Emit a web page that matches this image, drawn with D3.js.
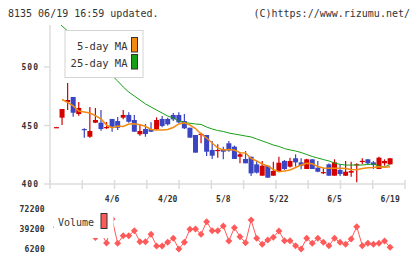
<!DOCTYPE html>
<html>
<head>
<meta charset="utf-8">
<script src="https://cdn.jsdelivr.net/npm/d3@7"></script>
<style>
  body { margin: 0; background: #fff; }
  svg { display: block; }
  text { font-family: 'DejaVu Sans Mono', monospace; fill: #333; }
</style>
</head>
<body>
<svg id="chart" width="420" height="259"></svg>
<script>
// trading days, 2020-03-23 .. 2020-06-19
const dates = ['3/23','3/24','3/25','3/26','3/27','3/30','3/31','4/1','4/2','4/3',
	'4/6','4/7','4/8','4/9','4/10','4/13','4/14','4/15','4/16','4/17',
	'4/20','4/21','4/22','4/23','4/24','4/27','4/28','4/30','5/1','5/7',
	'5/8','5/11','5/12','5/13','5/14','5/15','5/18','5/19','5/20','5/21',
	'5/22','5/25','5/26','5/27','5/28','5/29','6/1','6/2','6/3','6/4',
	'6/5','6/8','6/9','6/10','6/11','6/12','6/15','6/16','6/17','6/18','6/19'];
const dateLabels = ['4/6', '4/20', '5/8', '5/22', '6/5', '6/19'];

const opens = [448.4, 456.7, 470, 474.4, 459.8, 447, 440.4, 452.4, 452.4, 448.3,
	455.6, 453.8, 456.7, 459, 454.7, 442.5, 447, 446.8, 446.8, 455.6,
	455.6, 459, 459, 453.8, 448.1, 441.9, 442.5, 441.9, 429.1, 428.8,
	429.9, 434.8, 431.9, 423.3, 421.4, 423.3, 416.8, 407.1, 415.6, 407.1,
	411.1, 419.7, 414.8, 422, 418.5, 412.8, 421.1, 413.9, 409.8, 416.8,
	407.1, 412, 407.1, 409.7, 416.6, 419.5, 421.1, 418.5, 412.8, 417.7, 416.8];
const highs = [448.8, 464.1, 486.3, 474.4, 470.1, 447.6, 465.8, 465, 463.2, 453,
	455.6, 457.3, 463.2, 461.3, 459, 451.3, 451.3, 452.7, 457, 458.1,
	456.7, 460.7, 461.3, 459.8, 448.1, 441.9, 443.8, 441.9, 436.8, 433.9,
	431.9, 436.8, 432.8, 427.1, 428.2, 423.3, 419.7, 419.7, 415.6, 419.1,
	423.3, 420.5, 422.5, 425.4, 422, 421.5, 421.1, 419.7, 413.9, 417.5,
	421.1, 416.8, 419.7, 419.1, 417.7, 422, 421.1, 419.7, 423.3, 421.1, 422];
const lows = [448.2, 450.4, 463.2, 457.5, 458.4, 439.6, 439.6, 452.1, 445.6, 447,
	444.7, 446.2, 455.3, 452.4, 444.7, 441.3, 440.4, 444.4, 446.2, 448.5,
	450, 453.8, 451.9, 447, 439.6, 426.8, 434.8, 424, 421.4, 422.5,
	421.1, 427.6, 421.4, 417.7, 417.7, 406.8, 409, 407.1, 405.4, 407.1,
	411.1, 412, 414, 414.8, 412.6, 412.8, 412.8, 410, 408.5, 407.1,
	407.1, 406.8, 406.8, 406.2, 401.5, 416.8, 416.2, 412.8, 412.8, 415.6, 416.8];
const closes = [448.6, 464.1, 471.8, 460.9, 465, 446.5, 445.3, 454.7, 447, 448.7,
	449, 448.1, 459, 453.2, 444.7, 445.3, 442.7, 444.7, 454.7, 449.6,
	451, 455.3, 452.7, 447.6, 439.6, 426.8, 442.9, 427.6, 424.2, 429.1,
	427.6, 428.5, 421.4, 425.4, 417.7, 409.1, 409.7, 415.6, 405.4, 411.1,
	418.2, 412.8, 419.7, 418.5, 415.6, 421.1, 412.8, 410.5, 410.2, 407.1,
	418.5, 408.5, 410.5, 411.1, 416.9, 419.8, 417.7, 416.2, 422.5, 419.7, 422];

const ma5 = [null, 472.2, 469.7, 466.7, 462.4, 461.5, 460.7, 458.5, 455.6, 450.4,
	447.9, 449.6, 449.1, 451.3, 451.5, 450.6, 449.3, 446.6, 446.2, 446.2,
	446.6, 448.3, 451.3, 452.4, 450.4, 447.4, 442.7, 439.3, 435, 430.8,
	429.1, 429.5, 429.1, 426.8, 426.5, 421.8, 419.7, 417.1, 415.4, 412.4,
	410.5, 411.1, 412, 414.1, 416.2, 417.7, 417.3, 415, 413.7, 413.4,
	413.4, 413.4, 413.2, 412.4, 412.1, 413.2, 413.9, 414.1, 414.8, 414.3, 414.8];
const ma25 = [540.2, 535, 530.8, 526.5, 521.4, 517.1, 512, 507.7, 502.6, 497.4,
	492.7, 488, 482.9, 478.6, 475.2, 471.8, 468.4, 465.8, 463.2, 460.7,
	458.1, 456.4, 453.8, 452.6, 451.9, 451.3, 450.9, 448.7, 447, 445.7,
	444.9, 443.6, 442.7, 441.9, 441, 440.2, 438.5, 436.8, 435.1, 433.3,
	432.1, 430.3, 429.1, 428.2, 426.9, 425.2, 423.5, 422.2, 420.9, 419.7,
	417.9, 416.8, 416.2, 416.2, 416.2, 416.2, 416.7, 417.1, 415.4, 414.5, 416.7];

const volumes = [42000, 48000, 60000, 52000, 45000, 40000, 38000, 25200, 33000, 16100,
	55700, 15600, 28100, 28100, 36400, 18200, 18200, 30500, 11200, 11200,
	17300, 23900, 6200, 17300, 38700, 39200, 30500, 51300, 36400, 36400,
	44200, 19400, 41400, 26500, 16600, 54100, 23900, 14000, 21100, 25500,
	35900, 19900, 19900, 11700, 6200, 23900, 15600, 23900, 17300, 11700,
	23900, 17300, 14000, 22700, 43000, 11700, 15600, 14000, 15600, 19400, 9000];

const priceTicks = [400, 450, 500];
const volumeTicks = [6200, 39200, 72200];

let svg = d3.select('#chart');

let x = d3.scaleLinear().domain([0, dates.length - 1]).range([56.5, 390.1]);
let y = d3.scaleLinear().domain([400, 500]).range([184, 67]);
let yVol = d3.scaleLinear().domain([6200, 72200]).range([249, 209]);
let grid = d3.scaleLinear().domain([0, 11]).range([50, 405]);

// header
svg.append('text').attr('x', 8).attr('y', 17).attr('font-size', 10)
	.text('8135 06/19 16:59 updated.');
svg.append('text').attr('x', 410).attr('y', 17).attr('font-size', 10)
	.attr('text-anchor', 'end').text('(C)https://www.rizumu.net/');

svg.append('clipPath').attr('id', 'plotClip')
	.append('rect').attr('x', 50).attr('y', 25).attr('width', 362).attr('height', 159);

// axes
let axisColor = '#dcdcdc';
svg.append('line').attr('x1', 50).attr('x2', 50).attr('y1', 25).attr('y2', 184)
	.attr('stroke', axisColor).attr('stroke-width', 1.5);
svg.append('line').attr('x1', 50).attr('x2', 405).attr('y1', 184).attr('y2', 184)
	.attr('stroke', axisColor).attr('stroke-width', 1.5);

svg.selectAll('.gridTick')
	.data(d3.range(0, 12))
	.enter().append('line')
	.attr('x1', function (d) { return grid(d)})
	.attr('x2', function (d) { return grid(d)})
	.attr('y1', 180)
	.attr('y2', 189)
	.attr('stroke', axisColor)
	.attr('stroke-width', 1.5);

svg.selectAll('.yTick')
	.data(priceTicks)
	.enter().append('line')
	.attr('x1', 44).attr('x2', 50)
	.attr('y1', function (d) { return y(d)})
	.attr('y2', function (d) { return y(d)})
	.attr('stroke', axisColor)
	.attr('stroke-width', 1.5);

svg.selectAll('.yLabel')
	.data(priceTicks)
	.enter().append('text')
	.attr('x', 39)
	.attr('y', function (d) { return y(d) + 3})
	.attr('text-anchor', 'end')
	.attr('font-size', 8)
	.attr('font-weight', 'bold')
	.attr('letter-spacing', 1)
	.text(function (d) { return d});

svg.selectAll('.xLabel')
	.data(dateLabels)
	.enter().append('text')
	.attr('x', function (d) { return x(dates.indexOf(d))})
	.attr('y', 202)
	.attr('text-anchor', 'middle')
	.attr('font-size', 8)
	.attr('font-weight', 'bold')
	.text(function (d) { return d});

// candles
let plot = svg.append('g').attr('clip-path', 'url(#plotClip)');
let candles = dates.map(function (d, i) {
	return {'i': i, 'open': opens[i], 'high': highs[i], 'low': lows[i], 'close': closes[i]};
});
let candleColor = function (d) { return d['close'] >= d['open'] ? '#d40000' : '#3b44c2'};

plot.selectAll('.wick')
	.data(candles)
	.enter().append('line')
	.attr('x1', function (d) { return x(d['i'])})
	.attr('x2', function (d) { return x(d['i'])})
	.attr('y1', function (d) { return y(d['high'])})
	.attr('y2', function (d) { return y(d['low'])})
	.attr('stroke', candleColor)
	.attr('stroke-width', 1.2);

plot.selectAll('.body')
	.data(candles)
	.enter().append('rect')
	.attr('x', function (d) { return x(d['i']) - 2.5})
	.attr('y', function (d) { return y(Math.max(d['open'], d['close']))})
	.attr('width', 5)
	.attr('height', function (d) { return Math.max(Math.abs(y(d['open']) - y(d['close'])), 1.2)})
	.attr('fill', candleColor);

// moving averages
let maLine = function (values) {
	return d3.line()
		.defined(function (d) { return d !== null})
		.x(function (d, i) { return x(i)})
		.y(function (d) { return y(d)})(values);
};
plot.append('path').attr('d', maLine(ma25))
	.attr('fill', 'none').attr('stroke', '#16a016').attr('stroke-width', 1);
plot.append('path').attr('d', maLine(ma5))
	.attr('fill', 'none').attr('stroke', '#f08a10').attr('stroke-width', 1.5);

// legend
let legend = svg.append('g');
legend.append('rect').attr('x', 65).attr('y', 30.5).attr('width', 78).attr('height', 47)
	.attr('fill', '#fff').attr('stroke', '#d4d4d4').attr('stroke-width', 1);
let legendItems = [{'label': '5-day MA', 'color': '#f08a10'}, {'label': '25-day MA', 'color': '#16a016'}];
legendItems.forEach(function (item, k) {
	legend.append('rect').attr('x', 131.5).attr('y', 37.5 + k * 17).attr('width', 6).attr('height', 14.5)
		.attr('fill', item['color']).attr('stroke', '#333').attr('stroke-width', 1);
	legend.append('text').attr('x', 127.5).attr('y', 49.5 + k * 17)
		.attr('text-anchor', 'end').attr('font-size', 10.5).text(item['label']);
});

// volume
let vol = svg.append('g');
vol.selectAll('.vLabel')
	.data(volumeTicks)
	.enter().append('text')
	.attr('x', 45)
	.attr('y', function (d) { return yVol(d) + 3})
	.attr('text-anchor', 'end')
	.attr('font-size', 8)
	.attr('font-weight', 'bold')
	.attr('letter-spacing', 0.3)
	.text(function (d) { return d});

vol.append('path')
	.attr('d', d3.line()
		.x(function (d, i) { return x(i)})
		.y(function (d) { return yVol(d)})(volumes))
	.attr('fill', 'none')
	.attr('stroke', '#ff5a5a')
	.attr('stroke-width', 1);

vol.selectAll('.vMark')
	.data(volumes)
	.enter().append('path')
	.attr('d', d3.symbol().type(d3.symbolSquare).size(24))
	.attr('transform', function (d, i) { return 'translate(' + x(i) + ',' + yVol(d) + ') rotate(45)'})
	.attr('fill', '#ff5a5a');

// volume legend sits on a white patch over the first days
vol.append('rect').attr('x', 54).attr('y', 204).attr('width', 59.5).attr('height', 34)
	.attr('fill', '#fff');
vol.append('text').attr('x', 58).attr('y', 225.5).attr('font-size', 10).text('Volume');
vol.append('rect').attr('x', 101).attr('y', 213.5).attr('width', 6).attr('height', 15)
	.attr('fill', '#ff5a5a').attr('stroke', '#333').attr('stroke-width', 1);
</script>
</body>
</html>
